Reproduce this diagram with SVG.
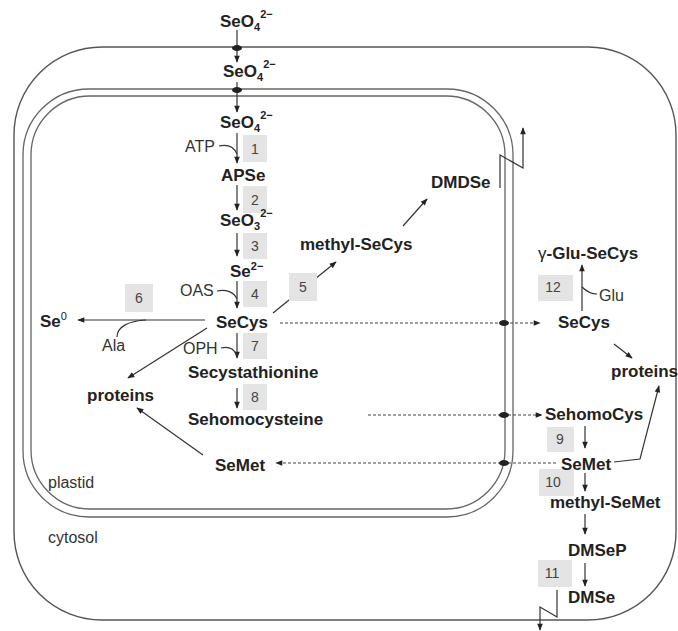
<svg xmlns="http://www.w3.org/2000/svg" width="678" height="631" viewBox="0 0 678 631">
<style>
.m{font-family:"Liberation Sans",Arial,sans-serif;font-weight:bold;font-size:17px;fill:#222}
.r{font-family:"Liberation Sans",Arial,sans-serif;font-size:16px;fill:#333}
.n{font-family:"Liberation Sans",Arial,sans-serif;font-size:14px;fill:#444;text-anchor:middle}
.b{fill:#e4e4e4}
.c{fill:none;stroke:#333;stroke-width:1.2}
.d{fill:none;stroke:#444;stroke-width:1.1;stroke-dasharray:3 2}
.mem{fill:none;stroke:#555;stroke-width:1.4}
.pl{fill:none;stroke:#666;stroke-width:1.3}
.dot{fill:#222}
</style>
<defs>
<marker id="ah" viewBox="0 0 10 10" refX="9" refY="5" markerWidth="8" markerHeight="7" markerUnits="userSpaceOnUse" orient="auto"><path d="M0,1 L10,5 L0,9 z" fill="#222"/></marker>
</defs>
<g id="compartments">
<rect id="cell" class="mem" x="14" y="47" width="662" height="573" rx="88" ry="88"/>
<rect id="plastid-outer" class="pl" x="23" y="89" width="490" height="428" rx="66" ry="66"/>
<rect id="plastid-inner" class="pl" x="31" y="96" width="474" height="413" rx="59" ry="59"/>
<text class="r" x="48" y="488">plastid</text>
<text class="r" x="48" y="543">cytosol</text>
</g>
<g id="connectors">
<path class="c" d="M237,30 V62" marker-end="url(#ah)"/>
<path class="c" d="M237,82 V112" marker-end="url(#ah)"/>
<path class="c" d="M237,133 V163" marker-end="url(#ah)"/>
<path class="c" d="M237,185 V210" marker-end="url(#ah)"/>
<path class="c" d="M237,233 V256" marker-end="url(#ah)"/>
<path class="c" d="M237,281 V308" marker-end="url(#ah)"/>
<path class="c" d="M237,333 V358" marker-end="url(#ah)"/>
<path class="c" d="M237,388 V408" marker-end="url(#ah)"/>
<path class="c" d="M219,146 C228,144 234,147 237,154"/>
<path class="c" d="M217,291 C226,289 234,292 237,299"/>
<path class="c" d="M221,348 C229,346 234,349 237,355"/>
<path class="c" d="M205,320 H78" marker-end="url(#ah)"/>
<path class="c" d="M117,337 C117,327 128,321 146,320"/>
<path class="c" d="M207,328 L128,378" marker-end="url(#ah)"/>
<path class="c" d="M273,313 L336,262" marker-end="url(#ah)"/>
<path class="c" d="M403,226 L427,199" marker-end="url(#ah)"/>
<path class="c" d="M203,455 L137,408" marker-end="url(#ah)"/>
<path class="c" d="M500,188 V155 L523,168 V128" marker-end="url(#ah)"/>
<path class="d" d="M280,323 H540" marker-end="url(#ah)"/>
<path class="d" d="M368,415 H542" marker-end="url(#ah)"/>
<path class="d" d="M556,463 H276" marker-end="url(#ah)"/>
<path class="c" d="M582,311 V265" marker-end="url(#ah)"/>
<path class="c" d="M597,294 C590,294 586,291 582,287"/>
<path class="c" d="M614,344 L632,358" marker-end="url(#ah)"/>
<path class="c" d="M585,426 V448" marker-end="url(#ah)"/>
<path class="c" d="M614,462 L640,459 L659,386" marker-end="url(#ah)"/>
<path class="c" d="M585,473 V491" marker-end="url(#ah)"/>
<path class="c" d="M585,514 V534" marker-end="url(#ah)"/>
<path class="c" d="M585,563 V586" marker-end="url(#ah)"/>
<path class="c" d="M557,590 V617 L540,607 V630" marker-end="url(#ah)"/>
<ellipse class="dot" cx="237" cy="48" rx="5" ry="3"/>
<ellipse class="dot" cx="237" cy="90" rx="5" ry="3"/>
<ellipse class="dot" cx="504" cy="323" rx="5" ry="3"/>
<ellipse class="dot" cx="504" cy="415" rx="5" ry="3"/>
<ellipse class="dot" cx="504" cy="463" rx="5" ry="3"/>
</g>
<g id="boxes">
<g id="e1"><rect class="b" x="243" y="135" width="24" height="27"/><text class="n" x="255" y="154">1</text></g>
<g id="e2"><rect class="b" x="243" y="186" width="24" height="27"/><text class="n" x="255" y="205">2</text></g>
<g id="e3"><rect class="b" x="243" y="233" width="24" height="26"/><text class="n" x="255" y="251">3</text></g>
<g id="e4"><rect class="b" x="243" y="281" width="24" height="26"/><text class="n" x="255" y="299">4</text></g>
<g id="e5"><rect class="b" x="289" y="273" width="28" height="28"/><text class="n" x="303" y="292">5</text></g>
<g id="e6"><rect class="b" x="125" y="284" width="28" height="28"/><text class="n" x="139" y="303">6</text></g>
<g id="e7"><rect class="b" x="243" y="333" width="24" height="26"/><text class="n" x="255" y="351">7</text></g>
<g id="e8"><rect class="b" x="243" y="384" width="24" height="26"/><text class="n" x="255" y="402">8</text></g>
<g id="e9"><rect class="b" x="547" y="427" width="27" height="25"/><text class="n" x="560" y="444">9</text></g>
<g id="e10"><rect class="b" x="539" y="469" width="35" height="27"/><text class="n" x="553" y="487">10</text></g>
<g id="e11"><rect class="b" x="538" y="560" width="34" height="27"/><text class="n" x="552" y="578">11</text></g>
<g id="e12"><rect class="b" x="538" y="275" width="35" height="26"/><text class="n" x="553" y="292">12</text></g>
</g>
<g id="labels">
<g id="seo4-out"><text class="m" x="220" y="27">SeO<tspan font-size="11" dy="4">4</tspan><tspan font-size="11" dy="-13">2−</tspan></text></g>
<g id="seo4-cyt"><text class="m" x="223" y="77">SeO<tspan font-size="11" dy="4">4</tspan><tspan font-size="11" dy="-13">2−</tspan></text></g>
<g id="seo4-pl"><text class="m" x="220" y="128">SeO<tspan font-size="11" dy="4">4</tspan><tspan font-size="11" dy="-13">2−</tspan></text></g>
<g id="atp"><text class="r" x="185" y="152">ATP</text></g>
<g id="apse"><text class="m" x="221" y="181">APSe</text></g>
<g id="seo3"><text class="m" x="220" y="226">SeO<tspan font-size="11" dy="4">3</tspan><tspan font-size="11" dy="-13">2−</tspan></text></g>
<g id="se2"><text class="m" x="230" y="277">Se<tspan font-size="11" dy="-7">2−</tspan></text></g>
<g id="oas"><text class="r" x="180" y="296">OAS</text></g>
<g id="secys-pl"><text class="m" x="216" y="328">SeCys</text></g>
<g id="se0"><text class="m" x="40" y="327">Se<tspan font-size="11" font-weight="normal" dy="-7">0</tspan></text></g>
<g id="ala"><text class="r" x="102" y="351">Ala</text></g>
<g id="oph"><text class="r" x="183" y="354">OPH</text></g>
<g id="proteins-pl"><text class="m" x="87" y="401">proteins</text></g>
<g id="secysta"><text class="m" x="188" y="378">Secystathionine</text></g>
<g id="sehomocysteine"><text class="m" x="188" y="425">Sehomocysteine</text></g>
<g id="semet-pl"><text class="m" x="215" y="471">SeMet</text></g>
<g id="methylsecys"><text class="m" x="300" y="250">methyl-SeCys</text></g>
<g id="dmdse"><text class="m" x="431" y="188">DMDSe</text></g>
<g id="gglusecys"><text class="m" x="538" y="259"><tspan font-weight="normal">γ</tspan>-Glu-SeCys</text></g>
<g id="glu"><text class="r" x="599" y="301">Glu</text></g>
<g id="secys-cyt"><text class="m" x="558" y="328">SeCys</text></g>
<g id="proteins-cyt"><text class="m" x="611" y="377" font-size="16">proteins</text></g>
<g id="sehomocys"><text class="m" x="545" y="420">SehomoCys</text></g>
<g id="semet-cyt"><text class="m" x="561" y="470">SeMet</text></g>
<g id="methylsemet"><text class="m" x="550" y="508">methyl-SeMet</text></g>
<g id="dmsep"><text class="m" x="568" y="556">DMSeP</text></g>
<g id="dmse"><text class="m" x="568" y="603">DMSe</text></g>
</g>
</svg>
